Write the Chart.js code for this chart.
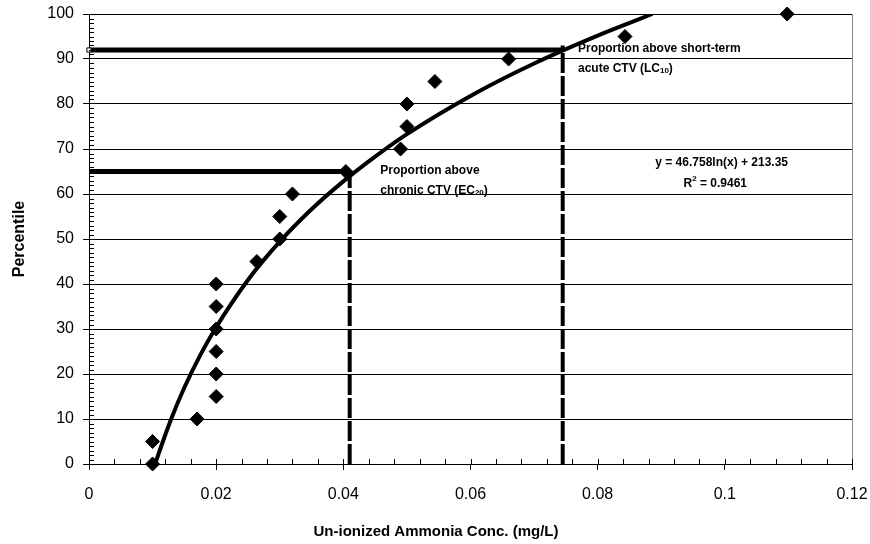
<!DOCTYPE html>
<html>
<head>
<meta charset="utf-8">
<script src="https://cdn.jsdelivr.net/npm/chart.js@4"></script>
<style>
  html, body { margin: 0; padding: 0; background: #fff; }
  #wrap { width: 870px; height: 544px; }
</style>
</head>
<body>
<div id="wrap"><canvas id="myChart" width="870" height="544"></canvas></div>
<script>
// observed points (concentration, percentile)
const concValues = [0.01, 0.01, 0.017, 0.02, 0.02, 0.02, 0.02, 0.02, 0.02, 0.0264, 0.03, 0.03, 0.032, 0.0404, 0.049, 0.05, 0.05, 0.0544, 0.066, 0.0843, 0.1098];
const percentileValues = [0, 5, 10, 15, 20, 25, 30, 35, 40, 45, 50, 55, 60, 65, 70, 75, 80, 85, 90, 95, 100];

// log trend line
const trendX = [0.0104, 0.011, 0.012, 0.013, 0.015, 0.0175, 0.02, 0.025, 0.03, 0.035, 0.04, 0.045, 0.05, 0.06, 0.07, 0.08, 0.0886];
const trendY = [0, 2.5, 6.5, 10.3, 17, 24.2, 30.4, 40.9, 49.4, 56.6, 62.8, 68.3, 73.3, 81.8, 89, 95.2, 100];

// CTV guide lines
const chronicCTV = 0.041;
const chronicPct = 65;
const acuteCTV = 0.0745;
const acutePct = 92;
const acuteTop = 93;

const xTickLabels = ["0", "0.02", "0.04", "0.06", "0.08", "0.1", "0.12"];
const yTickLabels = ["0", "10", "20", "30", "40", "50", "60", "70", "80", "90", "100"];

const xTitle = "Un-ionized Ammonia Conc. (mg/L)";
const yTitle = "Percentile";
const equationText = "y = 46.758ln(x) + 213.35";
const r2Text = "0.9461";

const FONT = "'Liberation Sans', Arial, sans-serif";

const toPts = (xs, ys) => xs.map((x, i) => ({ x: x, y: ys[i] }));

// minor ticks, borders, titles and text labels
const extras = {
  id: "extras",
  afterDatasetsDraw(chart) {
    const ctx = chart.ctx;
    const xs = chart.scales.x;
    const ys = chart.scales.y;
    const area = chart.chartArea;
    ctx.save();
    // right border
    ctx.strokeStyle = "#888";
    ctx.lineWidth = 1;
    ctx.beginPath();
    ctx.moveTo(area.right + 0.5, area.top);
    ctx.lineTo(area.right + 0.5, area.bottom);
    ctx.stroke();
    // y minor ticks
    ctx.strokeStyle = "#000";
    ctx.beginPath();
    for (let v = 0; v <= 100; v++) {
      const py = Math.round(ys.getPixelForValue(v)) + 0.5;
      ctx.moveTo(area.left, py);
      ctx.lineTo(area.left + (v % 10 === 0 ? 0 : 5), py);
    }
    // x minor and inner major ticks
    for (let i = 0; i <= 30; i++) {
      const px = Math.round(xs.getPixelForValue(i * 0.004)) + 0.5;
      ctx.moveTo(px, area.bottom);
      ctx.lineTo(px, area.bottom - 5);
    }
    ctx.stroke();

    // axis titles
    ctx.fillStyle = "#000";
    ctx.textBaseline = "middle";
    ctx.textAlign = "center";
    ctx.font = "bold 15px " + FONT;
    ctx.fillText(xTitle, 436, 532);
    ctx.save();
    ctx.translate(20, 239);
    ctx.rotate(-Math.PI / 2);
    ctx.font = "bold 16px " + FONT;
    ctx.fillText(yTitle, 0, 0);
    ctx.restore();

    // labels
    const sub = (parts, x, y, align) => {
      // parts: [text, small, text, shift]
      ctx.font = "bold 12px " + FONT;
      const w0 = ctx.measureText(parts[0]).width;
      ctx.font = "bold 8px " + FONT;
      const w1 = ctx.measureText(parts[1]).width;
      ctx.font = "bold 12px " + FONT;
      const w2 = ctx.measureText(parts[2]).width;
      let sx = x;
      if (align === "center") sx = x - (w0 + w1 + w2) / 2;
      ctx.textAlign = "left";
      ctx.fillText(parts[0], sx, y);
      ctx.font = "bold 8px " + FONT;
      ctx.fillText(parts[1], sx + w0, y + parts[3]);
      ctx.font = "bold 12px " + FONT;
      ctx.fillText(parts[2], sx + w0 + w1, y);
    };
    ctx.font = "bold 12px " + FONT;
    ctx.textAlign = "left";
    let px = xs.getPixelForValue(0.0769);
    ctx.fillText("Proportion above short-term", px, ys.getPixelForValue(92.2));
    sub(["acute CTV (LC", "10", ")", 2], px, ys.getPixelForValue(87.8), "left");
    px = xs.getPixelForValue(0.0458);
    ctx.font = "bold 12px " + FONT;
    ctx.fillText("Proportion above", px, ys.getPixelForValue(65.1));
    sub(["chronic CTV (EC", "20", ")", 2], px, ys.getPixelForValue(60.7), "left");
    ctx.font = "bold 12px " + FONT;
    ctx.textAlign = "center";
    ctx.fillText(equationText, xs.getPixelForValue(0.0995), ys.getPixelForValue(66.9));
    sub(["R", "2", " = " + r2Text, -5], xs.getPixelForValue(0.0985), ys.getPixelForValue(62.2), "center");
    ctx.restore();
  }
};

const ctx = document.querySelector("#myChart").getContext("2d");

new Chart(ctx, {
  type: "scatter",
  data: {
    datasets: [
      {
        label: "Observed",
        data: toPts(concValues, percentileValues),
        pointStyle: "rectRot",
        pointRadius: 7,
        pointBackgroundColor: "#000",
        pointBorderColor: "#000",
        borderWidth: 1,
        clip: false,
        order: 0,
      },
      {
        label: "Log trend",
        data: toPts(trendX, trendY),
        showLine: true,
        borderColor: "#000",
        borderWidth: 4,
        pointRadius: 0,
        cubicInterpolationMode: "monotone",
        order: 1,
      },
      {
        label: "Acute",
        data: [{ x: 0, y: acutePct }, { x: acuteCTV, y: acutePct }],
        showLine: true,
        borderColor: "#000",
        borderWidth: 5,
        pointRadius: [3, 0],
        pointStyle: "rect",
        pointBackgroundColor: "#fff",
        pointBorderColor: "#000",
        pointBorderWidth: 1,
        clip: false,
        order: 2,
      },
      {
        label: "Chronic",
        data: [{ x: 0, y: chronicPct }, { x: chronicCTV, y: chronicPct }],
        showLine: true,
        borderColor: "#000",
        borderWidth: 5,
        pointRadius: 0,
        order: 2,
      },
      {
        label: "Chronic CTV",
        data: [{ x: chronicCTV, y: 0 }, { x: chronicCTV, y: chronicPct }],
        showLine: true,
        borderColor: "#000",
        borderWidth: 4,
        borderDash: [20, 3],
        pointRadius: 0,
        order: 2,
      },
      {
        label: "Acute CTV",
        data: [{ x: acuteCTV, y: 0 }, { x: acuteCTV, y: acuteTop }],
        showLine: true,
        borderColor: "#000",
        borderWidth: 4,
        borderDash: [20, 3],
        pointRadius: 0,
        order: 2,
      },
    ],
  },
  options: {
    responsive: false,
    animation: false,
    layout: { padding: { top: 14, right: 18, left: 0, bottom: 0 } },
    plugins: {
      legend: { display: false },
      tooltip: { enabled: false },
    },
    scales: {
      x: {
        type: "linear",
        min: 0,
        max: 0.12,
        afterBuildTicks: (scale) => {
          scale.ticks = xTickLabels.map((t, i) => ({ value: i * 0.02 }));
        },
        ticks: {
          callback: (v, i) => xTickLabels[i],
          color: "#000",
          font: { family: FONT, size: 16 },
          padding: 15,
          maxRotation: 0,
        },
        grid: {
          drawOnChartArea: false,
          drawTicks: true,
          tickLength: 6,
          tickColor: "#000",
        },
        border: { color: "#000", width: 1 },
        afterFit: (scale) => { scale.height = 80; scale.paddingRight = 0; scale.paddingLeft = 0; },
      },
      y: {
        min: 0,
        max: 100,
        afterBuildTicks: (scale) => {
          scale.ticks = yTickLabels.map((t, i) => ({ value: i * 10 }));
        },
        ticks: {
          callback: (v, i) => yTickLabels[i],
          color: "#000",
          font: { family: FONT, size: 16 },
          padding: 9,
        },
        grid: {
          color: "#000",
          lineWidth: 1,
          tickLength: 6,
          tickColor: "#000",
        },
        border: { color: "#000", width: 1 },
        afterFit: (scale) => { scale.width = 89; scale.paddingTop = 0; scale.paddingBottom = 0; },
      },
    },
  },
  plugins: [extras],
});
</script>
</body>
</html>
